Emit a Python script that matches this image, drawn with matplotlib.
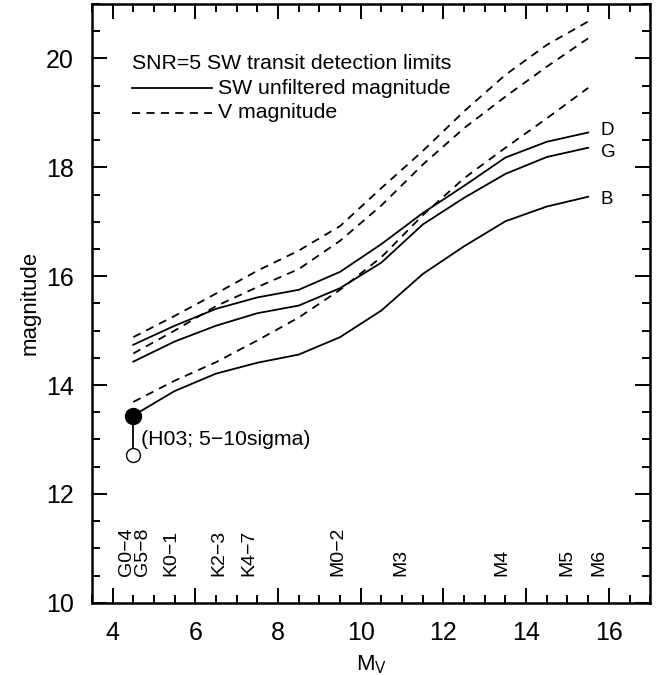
import matplotlib
matplotlib.use('Agg')
import matplotlib.pyplot as plt
from matplotlib.ticker import MultipleLocator

plt.rcParams['font.family'] = ['Liberation Sans', 'DejaVu Sans']

# Magnitud absoluta M_V de cada punto de las curvas
MV = [4.5, 5.5, 6.5, 7.5, 8.5, 9.5, 10.5, 11.5, 12.5, 13.5, 14.5, 15.5]

# Limites en magnitud SW (sin filtro)
SW_D = [14.74, 15.09, 15.40, 15.61, 15.75, 16.08, 16.59, 17.16, 17.66, 18.18, 18.47, 18.64]
SW_G = [14.43, 14.80, 15.09, 15.32, 15.46, 15.78, 16.25, 16.95, 17.44, 17.88, 18.19, 18.36]
SW_B = [13.44, 13.89, 14.21, 14.41, 14.56, 14.88, 15.37, 16.04, 16.55, 17.01, 17.28, 17.46]

# Limites en magnitud V
V_D = [14.88, 15.27, 15.68, 16.10, 16.47, 16.92, 17.62, 18.30, 19.03, 19.70, 20.25, 20.68]
V_G = [14.58, 15.00, 15.45, 15.80, 16.13, 16.65, 17.30, 18.05, 18.72, 19.30, 19.85, 20.37]
V_B = [13.69, 14.08, 14.42, 14.82, 15.24, 15.75, 16.35, 17.12, 17.80, 18.36, 18.90, 19.46]

CURVE_LABELS = ['D', 'G', 'B']
CURVE_LABEL_Y = [18.68, 18.27, 17.40]

# Punto de H03 (5 y 10 sigma)
H03_MV = 4.5
H03_5SIG = 13.44
H03_10SIG = 12.72

# Tipos espectrales en el eje x
SPT_NAMES = ['G0−4', 'G5−8', 'K0−1', 'K2−3', 'K4−7', 'M0−2', 'M3', 'M4', 'M5', 'M6']
SPT_MV = [4.33, 4.73, 5.42, 6.58, 7.30, 9.45, 10.96, 13.42, 14.99, 15.75]

DASH = (0, (4.5, 3.5))
FS_TEXTO = 15.3


def generar_grafico():
    fig = plt.figure(figsize=(6.71, 6.75), dpi=100)
    ax = fig.add_axes([0.137, 0.107, 0.832, 0.887])

    for sw, v in zip([SW_D, SW_G, SW_B], [V_D, V_G, V_B]):
        ax.plot(MV, sw, '-', color='black', linewidth=1.3)
        ax.plot(MV, v, linestyle=DASH, color='black', linewidth=1.3)

    # etiquetas D, G, B al final de las curvas
    for nombre, y in zip(CURVE_LABELS, CURVE_LABEL_Y):
        ax.text(MV[-1] + 0.3, y, nombre, fontsize=13.5, ha='left', va='center')

    # punto H03
    ax.plot([H03_MV, H03_MV], [H03_10SIG, H03_5SIG], '-', color='black', linewidth=1.3)
    ax.plot(H03_MV, H03_5SIG, 'o', color='black', markersize=11.5)
    ax.plot(H03_MV, H03_10SIG, 'o', markerfacecolor='white', markeredgecolor='black',
            markersize=10, markeredgewidth=1.0)
    ax.text(H03_MV + 0.18, 13.0, '(H03; 5−10sigma)', fontsize=FS_TEXTO,
            ha='left', va='center')

    # leyenda hecha a mano
    ax.text(4.48, 19.9, 'SNR=5 SW transit detection limits', fontsize=FS_TEXTO,
            ha='left', va='center')
    ax.plot([4.48, 6.4], [19.45, 19.45], '-', color='black', linewidth=1.3)
    ax.text(6.55, 19.45, 'SW unfiltered magnitude', fontsize=FS_TEXTO,
            ha='left', va='center')
    ax.plot([4.48, 6.4], [19.0, 19.0], linestyle=DASH, color='black', linewidth=1.3)
    ax.text(6.55, 19.0, 'V magnitude', fontsize=FS_TEXTO, ha='left', va='center')

    # tipos espectrales
    for nombre, mv in zip(SPT_NAMES, SPT_MV):
        ax.text(mv, 10.5, nombre, fontsize=14, rotation=90, ha='center', va='bottom')

    ax.set_xlim(3.5, 17)
    ax.set_ylim(10, 21)
    ax.xaxis.set_major_locator(MultipleLocator(2))
    ax.xaxis.set_minor_locator(MultipleLocator(0.5))
    ax.yaxis.set_major_locator(MultipleLocator(2))
    ax.yaxis.set_minor_locator(MultipleLocator(0.5))
    ax.tick_params(which='both', direction='in', top=True, right=True, width=1.4,
                   labelsize=18)
    ax.tick_params(which='major', length=11, pad=13)
    ax.tick_params(which='minor', length=6)
    for s in ax.spines.values():
        s.set_linewidth(1.8)

    ax.set_xlabel('M$_\\mathregular{V}$', fontsize=16, labelpad=6)
    ax.set_ylabel('magnitude', fontsize=16, labelpad=4)

    fig.savefig('out.png', dpi=100)
    plt.close(fig)


if __name__ == '__main__':
    generar_grafico()
